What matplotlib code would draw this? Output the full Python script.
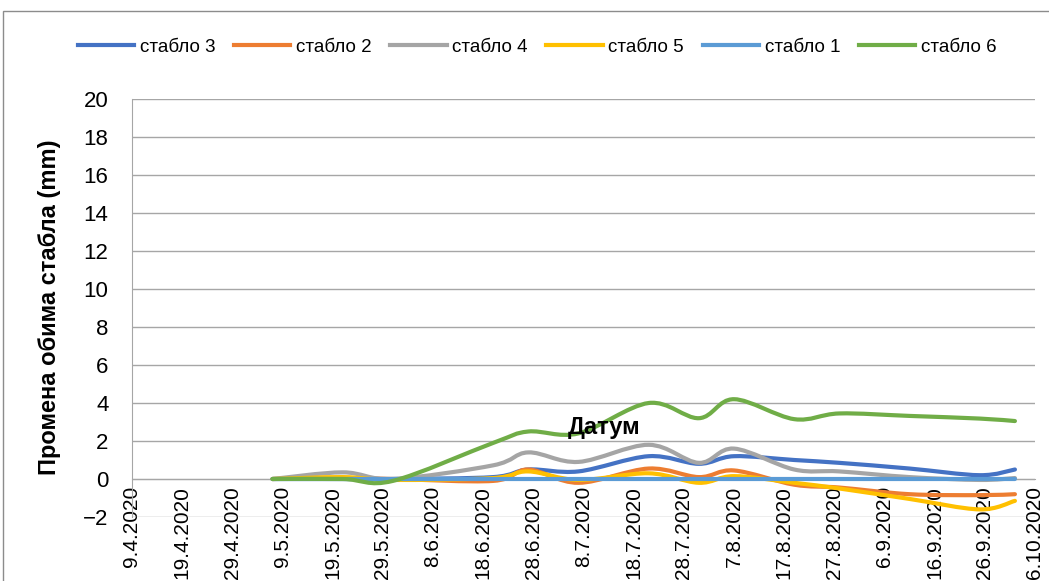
import matplotlib
matplotlib.use("Agg")
import matplotlib.pyplot as plt
import matplotlib.dates as mdates
import numpy as np
import pandas as pd
from matplotlib.path import Path
from matplotlib.patches import PathPatch, Rectangle
from matplotlib.lines import Line2D
from matplotlib.ticker import FuncFormatter

plt.rcParams["font.family"] = ["Liberation Sans", "DejaVu Sans"]

dates = pd.to_datetime([
    "2020-05-07", "2020-05-21", "2020-05-31", "2020-06-20", "2020-06-27",
    "2020-07-07", "2020-07-21", "2020-07-31", "2020-08-07", "2020-08-19",
    "2020-08-28", "2020-09-11", "2020-09-25", "2020-10-02",
])
stablo3 = [0, 0, 0, 0.1, 0.5, 0.4, 1.2, 0.8, 1.2, 1.0, 0.85, 0.55, 0.2, 0.5]
stablo2 = [0, 0.05, 0, -0.1, 0.5, -0.2, 0.55, 0.1, 0.45, -0.3, -0.45, -0.8, -0.85, -0.8]
stablo4 = [0, 0.35, 0.0, 0.72, 1.4, 0.9, 1.8, 0.85, 1.6, 0.5, 0.4, 0.1, -0.05, 0.05]
stablo5 = [0, 0.1, -0.05, 0.05, 0.4, -0.05, 0.3, -0.2, 0.15, -0.2, -0.5, -1.05, -1.6, -1.15]
stablo1 = [0, 0, 0, 0, 0, 0, 0, 0, 0, 0, 0, 0, 0, 0]
stablo6 = [0, 0, -0.1, 1.9, 2.5, 2.4, 4.0, 3.2, 4.2, 3.15, 3.45, 3.32, 3.18, 3.05]

series = [
    ("стабло 3", stablo3, "#4472C4"),
    ("стабло 2", stablo2, "#ED7D31"),
    ("стабло 4", stablo4, "#A5A5A5"),
    ("стабло 5", stablo5, "#FFC000"),
    ("стабло 1", stablo1, "#5B9BD5"),
    ("стабло 6", stablo6, "#70AD47"),
]


def smooth_path(x, y):
    # Excel-style smoothed line: cubic Bezier between consecutive points
    pts = np.column_stack([x, y])
    n = len(pts)
    verts = [pts[0]]
    codes = [Path.MOVETO]
    for i in range(n - 1):
        p0 = pts[i - 1] if i > 0 else pts[i]
        p1 = pts[i]
        p2 = pts[i + 1]
        p3 = pts[i + 2] if i + 2 < n else pts[i + 1]
        verts += [p1 + (p2 - p0) / 6, p2 - (p3 - p1) / 6, p2]
        codes += [Path.CURVE4] * 3
    return Path(verts, codes)


fig = plt.figure(figsize=(10.49, 5.81), dpi=100)
ax = fig.add_axes([132 / 1049, 64 / 581, (1035 - 132) / 1049, (517 - 99) / 581])

xnum = mdates.date2num(dates)
handles = []
for name, vals, color in series:
    path = smooth_path(xnum, np.array(vals, dtype=float))
    ax.add_patch(PathPatch(path, fill=False, edgecolor=color, lw=3,
                           capstyle="round", joinstyle="round", zorder=3))
    handles.append(Line2D([], [], color=color, lw=3, label=name))

ticks = pd.date_range("2020-04-09", "2020-10-06", freq="10D")
ax.set_xlim(mdates.date2num(ticks[0]), mdates.date2num(ticks[-1]))
ax.set_ylim(-2, 20)
ax.set_yticks(range(-2, 21, 2))
ax.set_xticks(mdates.date2num(ticks))
ax.xaxis.set_major_formatter(FuncFormatter(
    lambda v, pos: (lambda d: f"{d.day}.{d.month}.{d.year}")(mdates.num2date(v))))

ax.grid(axis="y", color="#A6A6A6", lw=1)
ax.set_axisbelow(True)
for s in ["top", "right"]:
    ax.spines[s].set_visible(False)
ax.spines["bottom"].set_position(("data", 0))
ax.spines["bottom"].set_color("#A6A6A6")
ax.spines["left"].set_color("#A6A6A6")
ax.tick_params(axis="x", length=0, pad=5, labelsize=15, labelrotation=90)
ax.tick_params(axis="y", length=0, pad=17, labelsize=16)

ax.text(0.523, 0.213, "Датум", transform=ax.transAxes, fontsize=17,
        fontweight="bold", ha="center", va="center", zorder=5)
fig.text(50 / 1049, 1 - 307 / 581, "Промена обима стабла (mm)", rotation=90,
         fontsize=17, fontweight="bold", ha="center", va="center")

fig.legend(handles=handles, loc="center", bbox_to_anchor=(0.512, 0.919),
           ncol=6, frameon=False, fontsize=13.5, handlelength=3.0,
           handletextpad=0.3, columnspacing=1.0)

fig.patches.append(Rectangle((3 / 1049, -0.1), 1.2, 1.1 - 11 / 581,
                             transform=fig.transFigure, fill=False,
                             edgecolor="#8C8C8C", lw=1))

fig.savefig("out.png", dpi=100)
